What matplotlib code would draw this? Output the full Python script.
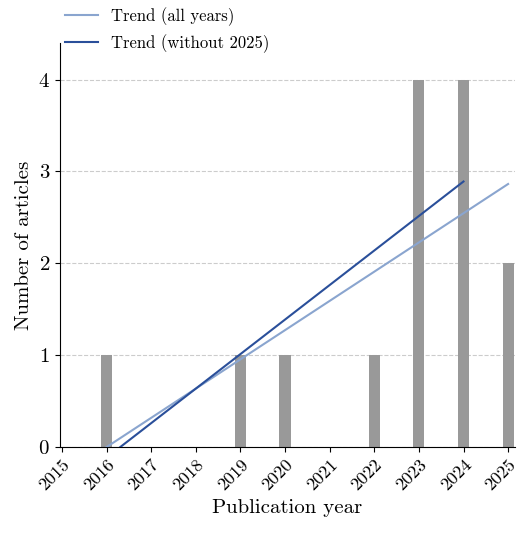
import matplotlib
matplotlib.use("Agg")
import matplotlib.pyplot as plt
import numpy as np

years = [2015, 2016, 2017, 2018, 2019, 2020, 2021, 2022, 2023, 2024, 2025]
counts = [0, 1, 0, 0, 1, 1, 0, 1, 4, 4, 2]

plt.rcParams['font.family'] = ['cmr10']
plt.rcParams['axes.formatter.use_mathtext'] = True
plt.rcParams['mathtext.fontset'] = 'cm'

fig, ax = plt.subplots(figsize=(5.2, 5.36), dpi=100)
fig.subplots_adjust(left=0.115, right=0.99, top=0.92, bottom=0.166)
x = np.array(years); y = np.array(counts)
ax.bar(x, y, width=0.25, color='#999999', zorder=2)

p_all = np.polyfit(x, y, 1)
xa = np.array([x.min(), x.max()])
ax.plot(xa, np.polyval(p_all, xa), color='#8aa5cf', lw=1.5, label='Trend (all years)', zorder=3)
m = x < 2025
p_no = np.polyfit(x[m], y[m], 1)
xb = np.array([x[m].min(), x[m].max()])
ax.plot(xb, np.polyval(p_no, xb), color='#2a4f9a', lw=1.5, label='Trend (without 2025)', zorder=3)

ax.set_ylim(0, 4.4)
ax.set_xlim(2014.95, 2025.15)
ax.set_xticks(years)
ax.set_xticklabels([str(v) for v in years], rotation=45, ha='right', rotation_mode='anchor', fontsize=13)
ax.set_yticks([0, 1, 2, 3, 4])
ax.tick_params(axis='y', labelsize=15)
ax.yaxis.grid(True, ls='--', color='#cccccc', lw=0.8, zorder=0)
for s in ['top', 'right']:
    ax.spines[s].set_visible(False)
ax.set_xlabel('Publication year', fontsize=15)
ax.set_ylabel('Number of articles', fontsize=15)
ax.legend(loc='upper left', bbox_to_anchor=(0.105, 1.005), bbox_transform=fig.transFigure,
          frameon=False, fontsize=12, borderaxespad=0.2)
fig.savefig('out.png')
